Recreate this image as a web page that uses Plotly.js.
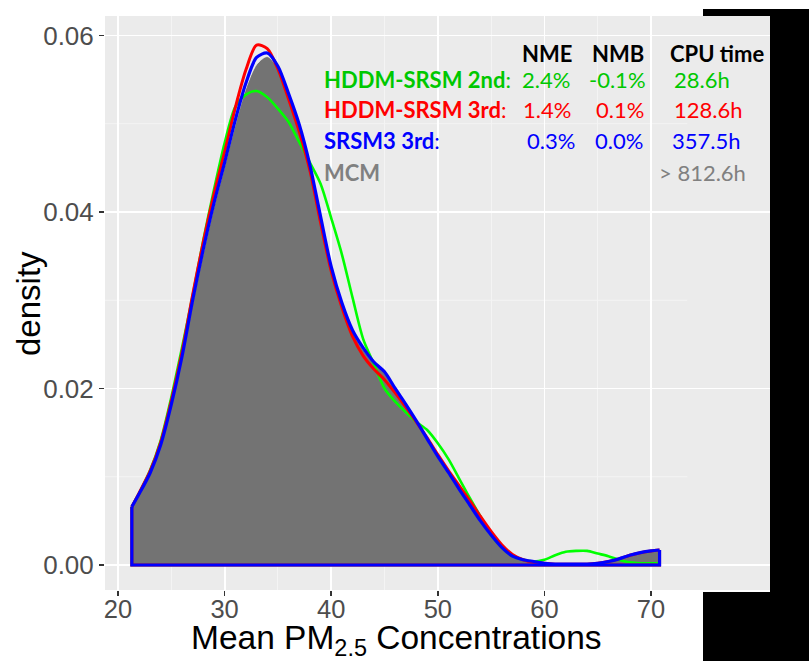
<!DOCTYPE html>
<html>
<head>
<meta charset="utf-8">
<script src="https://cdn.plot.ly/plotly-3.0.1.min.js"></script>
<style>html,body{margin:0;padding:0;background:#fff;}#chart{width:809px;height:661px;}</style>
</head>
<body>
<div id="chart"></div>
<script>
// ---- data ----
const conc = [21.3,22,23,24,25,26,27,28,29,30,31,32,33,34,35,36,37,38,39,40,41,42,43,44,45,46,47,48,49,50,51,52,53,54,55,56,57,58,59,60,61,62,63,64,65,66,67,68,69,70,70.8];
const densMCM = [.0066,.0081,.0104,.0136,.0181,.0234,.0297,.0354,.0406,.0452,.0499,.0540,.0567,.0576,.0563,.0533,.0496,.0451,.0393,.0337,.0296,.0264,.0244,.0229,.0218,.0199,.0181,.0162,.0142,.0122,.0104,.0085,.0067,.0049,.0033,.0020,.0010,.0006,.0004,.0002,.0001,.0001,.0001,.0001,.0002,.0004,.0007,.0011,.0014,.0016,.0017];
const densHDDM2 = [.0066,.0082,.0107,.0141,.0190,.0246,.0305,.0368,.0425,.0478,.0519,.0533,.0537,.0530,.0517,.0502,.0479,.0456,.0432,.0393,.0352,.0303,.0256,.0228,.0200,.0185,.0173,.0162,.0153,.0138,.0120,.0098,.0076,.0055,.0034,.0020,.0010,.0006,.0004,.0006,.0011,.0015,.0016,.0016,.0013,.0010,.0006,.0003,.0002,.0002,.0002];
const densHDDM3 = [.0066,.0082,.0106,.0139,.0186,.0241,.0306,.0366,.0420,.0468,.0518,.0561,.0589,.0585,.0562,.0528,.0491,.0447,.0388,.0333,.0292,.0259,.0237,.0222,.0210,.0195,.0179,.0162,.0144,.0125,.0107,.0090,.0073,.0055,.0038,.0023,.0012,.0006,.0003,.0002,.0001,.0001,.0001,.0001,.0002,.0004,.0007,.0011,.0014,.0016,.0017];
const densSRSM3 = [.0066,.0081,.0104,.0136,.0182,.0236,.0300,.0358,.0410,.0456,.0504,.0546,.0575,.0580,.0565,.0534,.0499,.0453,.0395,.0338,.0297,.0266,.0246,.0230,.0219,.0200,.0182,.0163,.0143,.0123,.0105,.0086,.0068,.0050,.0034,.0020,.0010,.0006,.0004,.0002,.0001,.0001,.0001,.0001,.0002,.0004,.0007,.0011,.0014,.0016,.0017];

const methods = ["HDDM-SRSM 2nd", "HDDM-SRSM 3rd", "SRSM3 3rd", "MCM"];
const nme = ["2.4%", "1.4%", "0.3%", ""];
const nmb = ["-0.1%", "0.1%", "0.0%", ""];
const cpuTime = ["28.6h", "128.6h", "357.5h", "> 812.6h"];
const headers = ["NME", "NMB", "CPU time"];
const xTicks = [20, 30, 40, 50, 60, 70];
const xMinor = [25, 35, 45, 55, 65];
const yTicks = [0, 0.02, 0.04, 0.06];
const yTickText = ["0.00", "0.02", "0.04", "0.06"];
const yMinor = [0.01, 0.03, 0.05];

// ---- styling ----
const lineColors = ["#00ff00", "#ff0000", "#0000ff"];
const textColors = ["#00c800", "#ff0000", "#0000ff", "#808080"];
const series = [densHDDM2, densHDDM3, densSRSM3];
const widths = [2.6, 3, 3.2];

const W = 809, H = 661, ML = 105, MR = 39, MT = 16, MB = 71;
const PW = W - ML - MR, PH = H - MT - MB;
const px = v => (v - ML) / PW;
const py = v => (H - MB - v) / PH;

const traces = [];
traces.push({
  x: conc, y: densMCM, type: 'scatter', mode: 'lines',
  line: {color: 'rgba(255,255,255,0.7)', width: 1, shape: 'spline', smoothing: 0.8},
  fill: 'tozeroy', fillcolor: '#737373', hoverinfo: 'skip'
});
series.forEach((s, i) => {
  const n = conc.length;
  traces.push({
    x: [conc[n-1], conc[n-1], conc[0], conc[0]],
    y: [s[n-1], 0, 0, s[0]],
    type: 'scatter', mode: 'lines',
    line: {color: lineColors[i], width: widths[i]}, hoverinfo: 'skip'
  });
  traces.push({
    x: conc, y: s, type: 'scatter', mode: 'lines',
    line: {color: lineColors[i], width: widths[i], shape: 'spline', smoothing: 0.8},
    hoverinfo: 'skip'
  });
});

const tableFont = "Lato, 'Noto Sans', sans-serif";
const annotations = [];
const headerX = [547, 618, 717];
headers.forEach((h, i) => annotations.push({
  xref: 'paper', yref: 'paper', x: px(headerX[i]), y: py(53), xanchor: 'center', yanchor: 'middle',
  text: '<b>' + h + '</b>', showarrow: false, font: {family: tableFont, size: 22, color: '#000'}
}));
const rowY = [80, 110, 140, 172];
const nmeRight = [572, 573, 577];
const nmbRight = [648, 646, 645];
const cpuLeft = [672, 672, 670, 657];
methods.forEach((m, i) => {
  const c = textColors[i];
  annotations.push({xref: 'paper', yref: 'paper', x: px(322), y: py(rowY[i]), xanchor: 'left', yanchor: 'middle',
    text: '<b>' + m + '</b>' + (i < 3 ? ':' : ''), showarrow: false, font: {family: tableFont, size: 22, color: c}});
  if (nme[i]) annotations.push({xref: 'paper', yref: 'paper', x: px(nmeRight[i]), y: py(rowY[i]), xanchor: 'right', yanchor: 'middle',
    text: nme[i], showarrow: false, font: {family: tableFont, size: 22, color: c}});
  if (nmb[i]) annotations.push({xref: 'paper', yref: 'paper', x: px(nmbRight[i]), y: py(rowY[i]), xanchor: 'right', yanchor: 'middle',
    text: nmb[i], showarrow: false, font: {family: tableFont, size: 22, color: c}});
  annotations.push({xref: 'paper', yref: 'paper', x: px(cpuLeft[i]), y: py(rowY[i]), xanchor: 'left', yanchor: 'middle',
    text: cpuTime[i], showarrow: false, font: {family: tableFont, size: 22, color: c}});
});
const axisFont = "'Liberation Sans', Arial, sans-serif";
annotations.push({xref: 'paper', yref: 'paper', x: px(396), y: py(640), xanchor: 'center', yanchor: 'middle',
  text: 'Mean PM<sub>2.5</sub> Concentrations', showarrow: false, font: {family: axisFont, size: 33.5, color: '#000'}});
annotations.push({xref: 'paper', yref: 'paper', x: px(28), y: py(304), xanchor: 'center', yanchor: 'middle', textangle: -90,
  text: 'density', showarrow: false, font: {family: axisFont, size: 33, color: '#000'}});

const shapes = [];
yMinor.forEach(v => shapes.push({type: 'line', xref: 'x', yref: 'y', x0: 18.78, x1: 73.4, y0: v, y1: v,
  line: {color: '#f4f4f4', width: 1}, layer: 'below'}));
const xa = px(703), xt = py(9);
shapes.push({type: 'path', xref: 'paper', yref: 'paper', layer: 'above',
  path: `M ${xa} ${xt} L 1.2 ${xt} L 1.2 -0.3 L ${xa} -0.3 L ${xa} -0.0035 L 1 -0.0035 L 1 1 L ${xa} 1 Z`,
  fillcolor: '#000', line: {width: 0}});

const layout = {
  width: W, height: H, margin: {l: ML, r: MR, t: MT, b: MB, pad: 0},
  paper_bgcolor: '#fff', plot_bgcolor: '#ebebeb', showlegend: false, hovermode: false,
  xaxis: {range: [18.78, 81.16], tickvals: xTicks, ticktext: xTicks.map(String), showgrid: true, gridcolor: '#fff', gridwidth: 1.8,
    zeroline: false, ticks: 'outside', ticklen: 5, tickwidth: 1.5, tickcolor: '#333', ticklabelstandoff: -9,
    tickfont: {family: axisFont, size: 25.5, color: '#4d4d4d'},
    minor: {tickvals: xMinor, showgrid: true, gridcolor: '#f4f4f4', gridwidth: 1, ticks: ''}},
  yaxis: {range: [-0.00283, 0.0622], tickvals: yTicks, ticktext: yTickText, showgrid: true, gridcolor: '#fff', gridwidth: 1.8,
    zeroline: false, ticks: 'outside', ticklen: 5, tickwidth: 1.5, tickcolor: '#333',
    tickfont: {family: axisFont, size: 26, color: '#4d4d4d'}},
  annotations: annotations, shapes: shapes
};
Plotly.newPlot('chart', traces, layout, {staticPlot: true, displayModeBar: false});
</script>
</body>
</html>
